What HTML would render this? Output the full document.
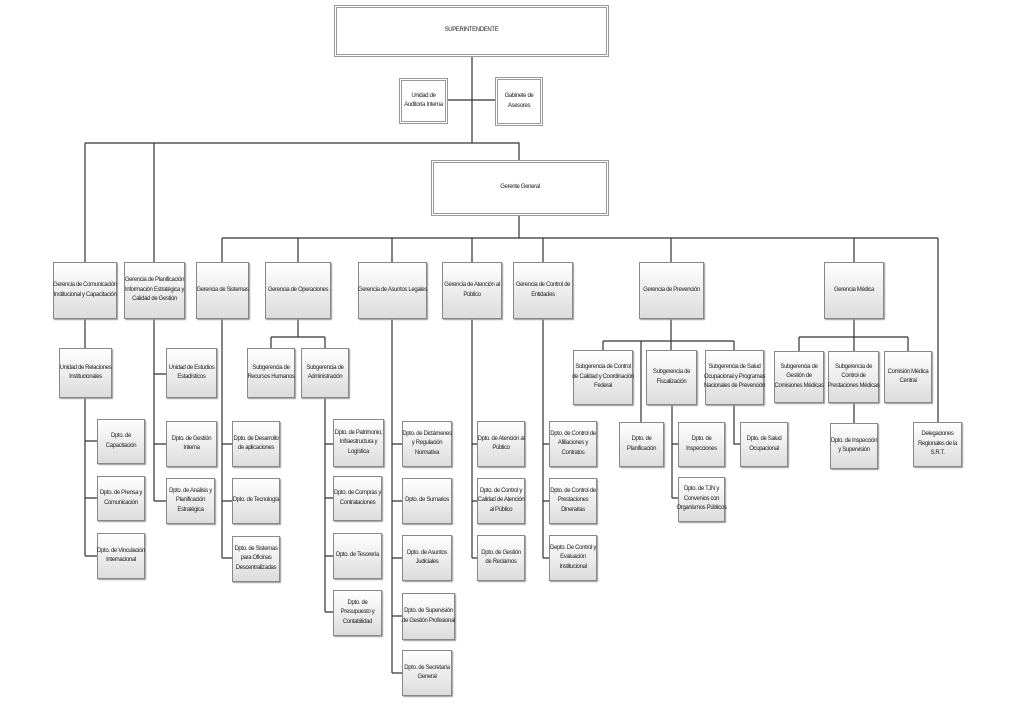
<!DOCTYPE html>
<html><head><meta charset="utf-8"><style>
body{margin:0;background:#fff;width:1024px;height:706px;position:relative;overflow:hidden;font-family:"Liberation Sans Narrow","Liberation Sans",sans-serif;}
.b{position:absolute;box-sizing:border-box;border:1px solid #888;background:linear-gradient(#fff,#dcdcdc);box-shadow:1px 1px 1px #999;display:flex;align-items:center;justify-content:center;text-align:center;font-size:6px;letter-spacing:-0.35px;line-height:9.5px;color:#222;padding:0;white-space:nowrap;overflow:visible;}
.d{background:#fff;border:3px double #999;box-shadow:none;}
svg{position:absolute;left:0;top:0}
</style></head><body>
<svg width="1024" height="706" stroke="#333" stroke-width="1.2" fill="none">
<path d="M472 57V143M448 100H495M85 143H519V160M85 143V262M154 143V262
M519 216V238M222 238H938M222 238V262M298 238V262M392 238V262M472 238V262M543 238V262M671 238V262M854 238V262M938 238V422
M85 319V348M85 398V556M85 441H97M85 498H97M85 556H97
M154 319V501M154 374H166M154 444H166M154 501H166
M222 319V558M222 444H232M222 501H232M222 558H232
M298 319V337M271 337H325M271 337V348M325 337V348M325 398V612M325 444H333M325 498H333M325 556H333M325 612H333
M392 319V673M392 444H402M392 501H402M392 558H402M392 616H402M392 673H402
M472 319V558M472 444H477M472 501H477M472 558H477
M543 319V558M543 444H549M543 501H549M543 558H549
M671 319V350M603 341H734M603 341V350M734 341V350M641 341V422M672 405V498M672 444H678M672 498H678M734 405V444H740
M854 319V351M799 337H908M799 337V351M908 337V351M854 403V423"/>
</svg>
<div class="b d" style="left:334px;top:5px;width:275px;height:52px">SUPERINTENDENTE</div>
<div class="b d" style="left:399px;top:78px;width:49px;height:46px">Unidad de<br>Auditoría Interna</div>
<div class="b d" style="left:495px;top:77px;width:48px;height:49px">Gabinete de<br>Asesores</div>
<div class="b d" style="left:431px;top:160px;width:178px;height:56px">Gerente General</div>

<div class="b" style="left:53px;top:262px;width:64px;height:57px">Gerencia de Comunicación<br>Institucional y Capacitación</div>
<div class="b" style="left:124px;top:262px;width:61px;height:57px">Gerencia de Planificación<br>Información Estratégica y<br>Calidad de Gestión</div>
<div class="b" style="left:196px;top:262px;width:53px;height:57px">Gerencia de Sistemas</div>
<div class="b" style="left:265px;top:262px;width:66px;height:57px">Gerencia de Operaciones</div>
<div class="b" style="left:358px;top:262px;width:69px;height:57px">Gerencia de Asuntos Legales</div>
<div class="b" style="left:442px;top:262px;width:60px;height:57px">Gerencia de Atención al<br>Público</div>
<div class="b" style="left:513px;top:262px;width:60px;height:57px">Gerencia de Control de<br>Entidades</div>
<div class="b" style="left:639px;top:262px;width:65px;height:57px">Gerencia de Prevención</div>
<div class="b" style="left:824px;top:262px;width:60px;height:57px">Gerencia Médica</div>

<div class="b" style="left:59px;top:348px;width:53px;height:50px">Unidad de Relaciones<br>Institucionales</div>
<div class="b" style="left:97px;top:419px;width:48px;height:45px">Dpto. de<br>Capacitación</div>
<div class="b" style="left:97px;top:476px;width:48px;height:45px">Dpto. de Prensa y<br>Comunicación</div>
<div class="b" style="left:97px;top:533px;width:48px;height:46px">Dpto. de Vinculación<br>Internacional</div>

<div class="b" style="left:166px;top:348px;width:51px;height:50px">Unidad de Estudios<br>Estadísticos</div>
<div class="b" style="left:166px;top:421px;width:51px;height:46px">Dpto. de Gestión<br>Interna</div>
<div class="b" style="left:166px;top:478px;width:49px;height:46px">Dpto. de Análisis y<br>Planificación<br>Estratégica</div>

<div class="b" style="left:232px;top:421px;width:48px;height:46px">Dpto. de Desarrollo<br>de aplicaciones</div>
<div class="b" style="left:232px;top:478px;width:48px;height:46px">Dpto. de Tecnología</div>
<div class="b" style="left:232px;top:536px;width:48px;height:46px">Dpto. de Sistemas<br>para Oficinas<br>Descentralizadas</div>

<div class="b" style="left:247px;top:348px;width:48px;height:50px">Subgerencia de<br>Recursos Humanos</div>
<div class="b" style="left:301px;top:348px;width:48px;height:50px">Subgerencia de<br>Administración</div>
<div class="b" style="left:333px;top:419px;width:51px;height:48px">Dpto. de Patrimonio,<br>Infraestructura y<br>Logística</div>
<div class="b" style="left:333px;top:476px;width:49px;height:45px">Dpto. de Compras y<br>Contrataciones</div>
<div class="b" style="left:333px;top:533px;width:49px;height:46px">Dpto. de Tesorería</div>
<div class="b" style="left:333px;top:590px;width:49px;height:46px">Dpto. de<br>Presupuesto y<br>Contabilidad</div>

<div class="b" style="left:402px;top:421px;width:50px;height:46px">Dpto. de Dictámenes<br>y Regulación<br>Normativa</div>
<div class="b" style="left:402px;top:478px;width:50px;height:46px">Dpto. de Sumarios</div>
<div class="b" style="left:402px;top:535px;width:50px;height:46px">Dpto. de Asuntos<br>Judiciales</div>
<div class="b" style="left:402px;top:593px;width:53px;height:47px">Dpto. de Supervisión<br>de Gestión Profesional</div>
<div class="b" style="left:402px;top:650px;width:50px;height:46px">Dpto. de Secretaría<br>General</div>

<div class="b" style="left:477px;top:421px;width:48px;height:46px">Dpto. de Atención al<br>Público</div>
<div class="b" style="left:477px;top:478px;width:48px;height:46px">Dpto. de Control y<br>Calidad de Atención<br>al Público</div>
<div class="b" style="left:477px;top:535px;width:48px;height:46px">Dpto. de Gestión<br>de Reclamos</div>

<div class="b" style="left:549px;top:421px;width:48px;height:46px">Dpto. de Control de<br>Afiliaciones y<br>Contratos</div>
<div class="b" style="left:549px;top:478px;width:48px;height:46px">Dpto. de Control de<br>Prestaciones<br>Dinerarias</div>
<div class="b" style="left:549px;top:535px;width:48px;height:46px">Depto. De Control y<br>Evaluación<br>Institucional</div>

<div class="b" style="left:573px;top:350px;width:60px;height:55px">Subgerencia de Control<br>de Calidad y Coordinación<br>Federal</div>
<div class="b" style="left:646px;top:350px;width:51px;height:55px">Subgerencia de<br>Fiscalización</div>
<div class="b" style="left:705px;top:350px;width:59px;height:55px">Subgerencia de Salud<br>Ocupacional y Programas<br>Nacionales de Prevención</div>
<div class="b" style="left:619px;top:422px;width:45px;height:45px">Dpto. de<br>Planificación</div>
<div class="b" style="left:678px;top:422px;width:47px;height:45px">Dpto. de<br>Inspecciones</div>
<div class="b" style="left:678px;top:477px;width:47px;height:45px">Dpto. de TJN y<br>Convenios con<br>Organismos Públicos</div>
<div class="b" style="left:740px;top:422px;width:48px;height:45px">Dpto. de Salud<br>Ocupacional</div>

<div class="b" style="left:774px;top:351px;width:50px;height:52px">Subgerencia de<br>Gestión de<br>Comisiones Médicas</div>
<div class="b" style="left:828px;top:351px;width:51px;height:52px">Subgerencia de<br>Control de<br>Prestaciones Médicas</div>
<div class="b" style="left:884px;top:351px;width:48px;height:52px">Comisión Médica<br>Central</div>
<div class="b" style="left:830px;top:423px;width:48px;height:46px">Dpto. de Inspección<br>y Supervisión</div>
<div class="b" style="left:913px;top:422px;width:49px;height:45px">Delegaciones<br>Regionales de la<br>S.R.T.</div>
</body></html>
